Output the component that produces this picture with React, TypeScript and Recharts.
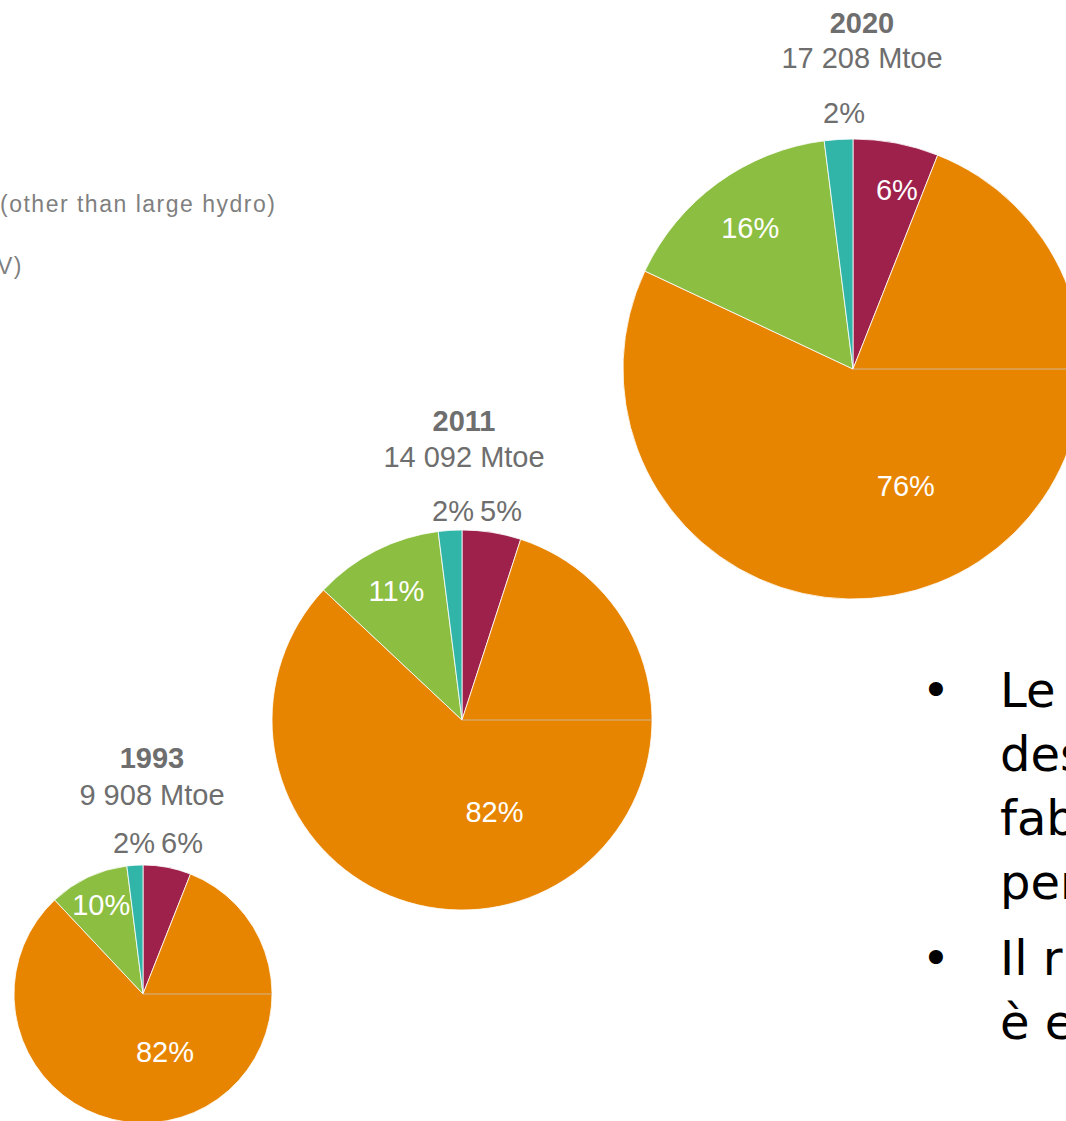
import { PieChart, Pie, Cell } from "recharts";

// primary energy demand by source, share in %
const years = ["1993", "2011", "2020"];
const totals = ["9 908 Mtoe", "14 092 Mtoe", "17 208 Mtoe"];
const sources = ["Nuclear", "Fossil fuels", "Renewables (other than large hydro)", "Large hydro"];
const nuclear = [6, 5, 6];
const fossil = [82, 82, 76];
const renewables = [10, 11, 16];
const hydro = [2, 2, 2];

const colors = ["#9d214b", "#e88500", "#8cbe41", "#31b5a8"];
const gray = "#6e6e6e";
const font = "'Liberation Sans', Arial, sans-serif";

const layout = [
  { cx: 143, cy: 994, r: 129, tx: 152, ty1: 768, ty2: 805, gap: 12, nuclearInside: false, turn: 10, lr: 0.48 },
  { cx: 462, cy: 720, r: 190, tx: 464, ty1: 431, ty2: 467, gap: 9, nuclearInside: false, turn: 5, lr: 0.515 },
  { cx: 853, cy: 369, r: 230, tx: 862, ty1: 33, ty2: 68, gap: 16, nuclearInside: true, turn: 2.6, lr: 0.56 },
];

const bullets = [
  ["Le", "des", "fab", "per"],
  ["Il r", "è e"],
];

const RAD = Math.PI / 180;

function makeLabel(i: number) {
  const lay = layout[i];
  return (props: any) => {
    const { cx, cy, midAngle, outerRadius, index, value } = props;
    const at = (f: number, turn = 0) => ({
      x: cx + outerRadius * f * Math.cos(-(midAngle + turn) * RAD),
      y: cy + outerRadius * f * Math.sin(-(midAngle + turn) * RAD),
    });
    const txt = `${value}%`;
    const white = { fill: "#fff", fontSize: 29, fontFamily: font } as const;
    const outside = { fill: gray, fontSize: 29, fontFamily: font } as const;
    const top = cy - outerRadius - lay.gap;

    if (index === 1) {
      // orange label sits a little right of the slice middle
      const p = at(lay.lr, lay.turn);
      return (
        <g>
          <line x1={cx} y1={cy} x2={cx + outerRadius} y2={cy} stroke="#d2b38e" strokeWidth={1} />
          <text x={p.x} y={p.y} textAnchor="middle" dominantBaseline="central" {...white}>
            {txt}
          </text>
        </g>
      );
    }
    if (index === 2) {
      const p = at(0.76);
      return (
        <text x={p.x} y={p.y} textAnchor="middle" dominantBaseline="central" {...white}>
          {txt}
        </text>
      );
    }
    if (index === 0) {
      if (lay.nuclearInside) {
        const p = at(0.8, -3);
        return (
          <text x={p.x} y={p.y} textAnchor="middle" dominantBaseline="central" {...white}>
            {txt}
          </text>
        );
      }
      return (
        <text x={cx + 18} y={top} textAnchor="start" {...outside}>
          {txt}
        </text>
      );
    }
    return (
      <text x={cx + 12} y={top} textAnchor="end" {...outside}>
        {txt}
      </text>
    );
  };
}

export default function App() {
  const data = years.map((_, i) =>
    sources.map((name, k) => ({
      name,
      value: [nuclear, fossil, renewables, hydro][k][i],
    }))
  );

  return (
    <div
      style={{
        position: "fixed",
        left: 0,
        top: 0,
        width: 1066,
        height: 1121,
        overflow: "hidden",
        background: "#fff",
      }}
    >
      <div style={{ position: "absolute", left: 0, top: 0 }}>
        <PieChart width={1066} height={1121} margin={{ top: 0, right: 0, bottom: 0, left: 0 }}>
          {data.map((d, i) => (
            <Pie
              key={years[i]}
              data={d}
              dataKey="value"
              nameKey="name"
              cx={layout[i].cx}
              cy={layout[i].cy}
              outerRadius={layout[i].r}
              startAngle={90}
              endAngle={-270}
              stroke="#ffffff"
              strokeWidth={0.8}
              label={makeLabel(i)}
              labelLine={false}
              isAnimationActive={false}
            >
              {d.map((_, k) => (
                <Cell key={k} fill={colors[k]} />
              ))}
            </Pie>
          ))}
        </PieChart>
      </div>

      <svg
        width={1066}
        height={1121}
        style={{ position: "absolute", left: 0, top: 0, pointerEvents: "none" }}
      >
        {layout.map((l, i) => (
          <g key={years[i]} fontFamily={font} fill={gray} fontSize={29} textAnchor="middle">
            <text x={l.tx} y={l.ty1} fontWeight="bold">
              {years[i]}
            </text>
            <text x={l.tx} y={l.ty2}>
              {totals[i]}
            </text>
          </g>
        ))}

        <g fontFamily={font} fill="#7f7f7f" fontSize={23} letterSpacing={1.5}>
          <text x={0} y={212}>(other than large hydro)</text>
          <text x={-3} y={274}>V)</text>
        </g>

        <g fontFamily="'DejaVu Sans', Verdana, sans-serif" fontSize={48} fill="#000">
          <text x={936} y={707} textAnchor="middle">•</text>
          {bullets[0].map((t, k) => (
            <text key={t} x={1000} y={707 + k * 64}>
              {t}
            </text>
          ))}
          <text x={936} y={975} textAnchor="middle">•</text>
          {bullets[1].map((t, k) => (
            <text key={t} x={1000} y={975 + k * 64}>
              {t}
            </text>
          ))}
        </g>
      </svg>
    </div>
  );
}
